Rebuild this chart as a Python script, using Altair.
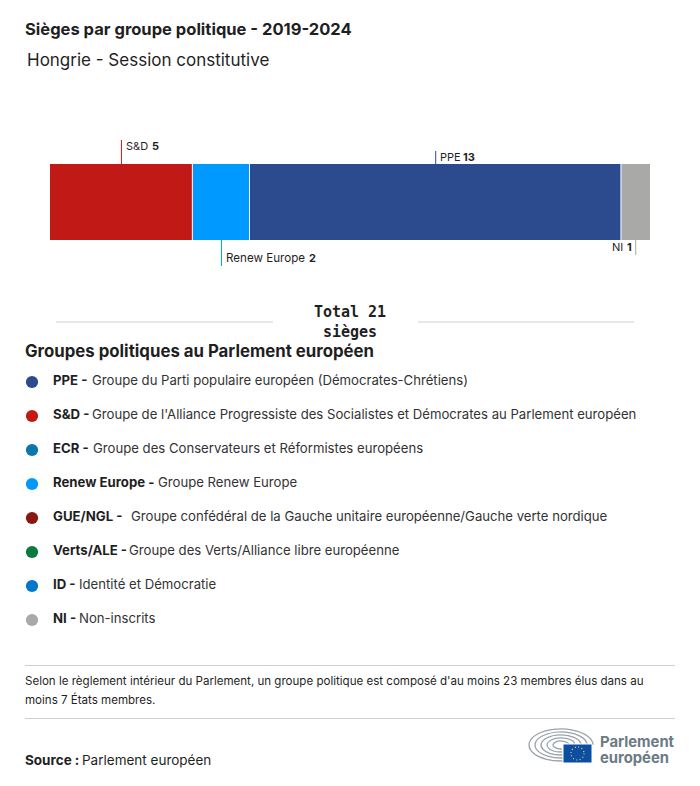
import altair as alt
import pandas as pd

groups = ["S&D", "Renew Europe", "PPE", "NI"]
seats = [5, 2, 13, 1]
bar_colors = ["#c01916", "#0099ff", "#2b4b8e", "#a9a9a8"]

leg_codes = ["PPE", "S&D", "ECR", "Renew Europe", "GUE/NGL", "Verts/ALE", "ID", "NI"]
leg_desc = [
    "Groupe du Parti populaire européen (Démocrates-Chrétiens)",
    "Groupe de l'Alliance Progressiste des Socialistes et Démocrates au Parlement européen",
    "Groupe des Conservateurs et Réformistes européens",
    "Groupe Renew Europe",
    "Groupe confédéral de la Gauche unitaire européenne/Gauche verte nordique",
    "Groupe des Verts/Alliance libre européenne",
    "Identité et Démocratie",
    "Non-inscrits",
]
leg_colors = ["#2b4b8e", "#c01916", "#0a77a8", "#0099ff", "#8b1510", "#0b7a3b", "#0077c8", "#a9a9a8"]

OX, OY = 8, 8
FONT = "Inter"
INK = "#1f1f1f"

rows = []
start = 0
for g, s, c in zip(groups, seats, bar_colors):
    rows.append(dict(group=g, seats=s, start=start, end=start + s, mid=start + s / 2, color=c))
    start += s
df = pd.DataFrame(rows)
xs = alt.Scale(domain=[0, 21], range=[50 - OX, 650 - OX])
X = alt.X("start:Q", scale=xs, axis=None)


def t(text, x, y, size=13, weight="normal", color=INK, align="left", font=FONT):
    return alt.Chart(pd.DataFrame({"t": [text]})).mark_text(
        align=align, baseline="alphabetic", fontSize=size, fontWeight=weight, color=color, font=font
    ).encode(x=alt.value(x - OX), y=alt.value(y - OY), text="t:N")


def hr(x1, x2, y, color="#d0d0d0"):
    return alt.Chart(pd.DataFrame({"a": [0]})).mark_rule(color=color, strokeWidth=1).encode(
        x=alt.value(x1 - OX), x2=alt.value(x2 - OX), y=alt.value(y - OY)
    )


bars = alt.Chart(df).mark_rect().encode(
    x=X, x2="end:Q",
    y=alt.value(164 - OY), y2=alt.value(240 - OY),
    color=alt.Color("color:N", scale=None),
)
gaps = alt.Chart(df[df.group != "NI"]).mark_rule(color="white", strokeWidth=1, xOffset=-0.5).encode(
    x=alt.X("end:Q", scale=xs, axis=None),
    y=alt.value(164 - OY), y2=alt.value(240 - OY),
)


def leader(group, y1, y2):
    return alt.Chart(df[df.group == group]).mark_rule(strokeWidth=1).encode(
        x=alt.X("mid:Q", scale=xs, axis=None),
        y=alt.value(y1 - OY), y2=alt.value(y2 - OY),
        color=alt.Color("color:N", scale=None),
    )


leaders = [leader("S&D", 140, 164), leader("PPE", 151, 164),
           leader("Renew Europe", 240, 266), leader("NI", 240, 255)]

layers = [bars, gaps] + leaders
layers += [
    t("Sièges par groupe politique - 2019-2024", 25, 35, 16.55, 700),
    t("Hongrie - Session constitutive", 27, 66, 17, 400),
    t("S&D", 126, 150, 11), t("5", 152, 150, 11, 700),
    t("PPE", 440, 161, 11), t("13", 463, 161, 11, 700),
    t("Renew Europe", 226, 262, 11.6), t("2", 309, 262, 11, 700),
    t("NI", 612, 251, 11), t("1", 627, 251, 11, 700),
    hr(56, 273, 322), hr(418, 634, 322),
    t("Total 21", 350, 317, 15, 700, align="center", font="DejaVu Sans Mono"),
    t("sièges", 350, 337, 15, 700, align="center", font="DejaVu Sans Mono"),
    t("Groupes politiques au Parlement européen", 25, 357, 16.8, 700),
]

leg = pd.DataFrame({"code": leg_codes, "desc": leg_desc, "color": leg_colors, "i": list(range(8))})
leg["label"] = leg["code"] + " -"
ly = alt.Y("i:Q", axis=None, scale=alt.Scale(domain=[0, 7], range=[382 - OY, 620 - OY]))
layers.append(alt.Chart(leg).mark_point(filled=True, size=150, opacity=1).encode(
    x=alt.value(32 - OX), y=ly, color=alt.Color("color:N", scale=None)))
layers.append(alt.Chart(leg).mark_text(align="left", baseline="alphabetic", fontSize=13.2, fontWeight=700, font=FONT, color=INK, yOffset=3).encode(
    x=alt.value(53 - OX), y=ly, text="label:N"))
desc_x = [92, 92, 93, 158, 131, 129, 79, 79]
for i, dx in enumerate(desc_x):
    layers.append(alt.Chart(leg[leg.i == i]).mark_text(align="left", baseline="alphabetic", fontSize=13.15, font=FONT, color="#333333", yOffset=3).encode(
        x=alt.value(dx - OX), y=ly, text="desc:N"))

layers += [
    hr(25, 675, 665.5),
    t("Selon le règlement intérieur du Parlement, un groupe politique est composé d'au moins 23 membres élus dans au", 25, 685, 11.55),
    t("moins 7 États membres.", 25, 704, 11.55),
    hr(25, 675, 718.5),
    t("Source :", 25, 765, 13.5, 700),
    t("Parlement européen", 82, 765, 13.5),
    t("Parlement", 600, 747, 14.8, 700, "#6b7b85"),
    t("européen", 600, 762.5, 14.8, 700, "#6b7b85"),
]

# Logo: hemicycle arcs, flag and stars
one = pd.DataFrame({"a": [0]})
for rx in [32, 26, 20, 14, 8]:
    layers.append(alt.Chart(one).mark_point(
        shape="M 0.1 0.497 A 1 0.5 0 1 1 1 0", size=(2 * rx) ** 2, stroke="#9aa3a9",
        strokeWidth=1.3, filled=False, opacity=1
    ).encode(x=alt.value(561 - OX), y=alt.value(745 - OY)))
layers.append(alt.Chart(one).mark_rect(color="#0b4ea2", stroke="white", strokeWidth=1).encode(
    x=alt.value(563 - OX), x2=alt.value(592 - OX), y=alt.value(744 - OY), y2=alt.value(763 - OY)))
layers.append(alt.Chart(one).mark_point(
    shape="circle", size=170, stroke="#f5d33a", strokeWidth=1.2, strokeDash=[1, 2.4], filled=False, opacity=1
).encode(x=alt.value(577.5 - OX), y=alt.value(753.5 - OY)))

chart = alt.layer(*layers).properties(
    width=684, height=770, padding=0, autosize=alt.AutoSizeParams(type="none"), background="white"
).configure_view(stroke=None)

chart.save("out.html", embed_options={"renderer": "svg", "actions": False})
